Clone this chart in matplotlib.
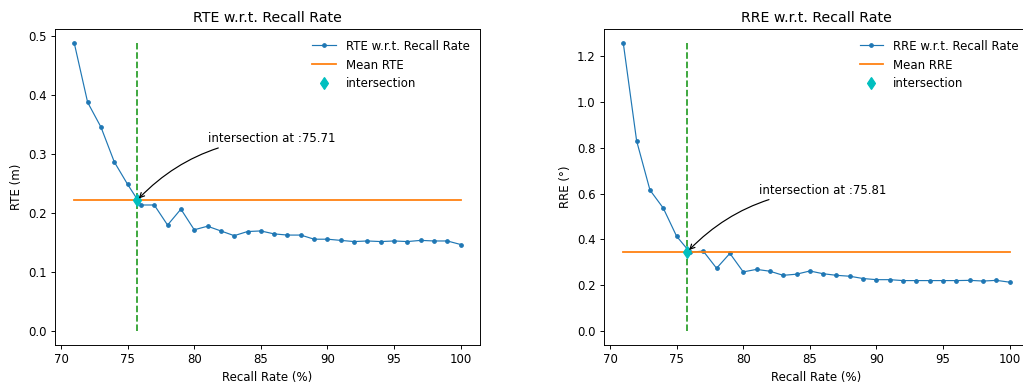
import numpy as np
import matplotlib
matplotlib.use("Agg")
import matplotlib.pyplot as plt

recall = list(range(71, 101))

rte = [0.487, 0.387, 0.345, 0.286, 0.248, 0.213, 0.213, 0.179, 0.206, 0.171,
       0.177, 0.169, 0.161, 0.168, 0.169, 0.164, 0.162, 0.162, 0.155, 0.155,
       0.153, 0.151, 0.152, 0.151, 0.152, 0.151, 0.153, 0.152, 0.152, 0.146]
rre = [1.257, 0.830, 0.615, 0.536, 0.413, 0.343, 0.348, 0.273, 0.338, 0.257,
       0.268, 0.260, 0.242, 0.247, 0.261, 0.249, 0.242, 0.238, 0.228, 0.223,
       0.223, 0.219, 0.219, 0.219, 0.219, 0.219, 0.220, 0.217, 0.220, 0.212]

mean_rte = 0.221
mean_rre = 0.345
cross_rte = 75.71
cross_rre = 75.81

panels = [
    ("RTE", rte, mean_rte, cross_rte, "RTE (m)", (81.0, 0.32)),
    ("RRE", rre, mean_rre, cross_rre, "RRE (°)", (81.2, 0.60)),
]

W, H, DPI = 1023, 383, 85
fig = plt.figure(figsize=(W / DPI, H / DPI), dpi=DPI)
# the original picture was cropped on the right, cutting the second axes
ax_w, ax_h, ax_b = 425 / W, 316 / H, 1 - 345 / H
axes = [fig.add_axes([55 / W, ax_b, ax_w, ax_h]),
        fig.add_axes([604 / W, ax_b, ax_w, ax_h])]

for ax, (name, vals, mean, cross, ylabel, txt) in zip(axes, panels):
    ax.plot(recall, vals, marker=".", lw=1, ms=6, color="#1f77b4",
            label=f"{name} w.r.t. Recall Rate")
    ax.plot([recall[0], recall[-1]], [mean, mean], color="#ff7f0e",
            label=f"Mean {name}")
    ax.vlines(cross, 0, max(vals), colors="#2ca02c", linestyles="--")
    ax.plot(cross, mean, "d", color="c", ms=7, linestyle="none",
            label="intersection")
    ax.annotate(f"intersection at :{cross:.2f}", xy=(cross, mean), xytext=txt,
                arrowprops=dict(arrowstyle="->", connectionstyle="arc3,rad=0.2",
                                color="black"))
    ax.set_title(f"{name} w.r.t. Recall Rate")
    ax.set_xlabel("Recall Rate (%)")
    ax.set_ylabel(ylabel)
    ax.legend(frameon=False, loc="upper right")

fig.savefig("out.png", dpi=DPI)
